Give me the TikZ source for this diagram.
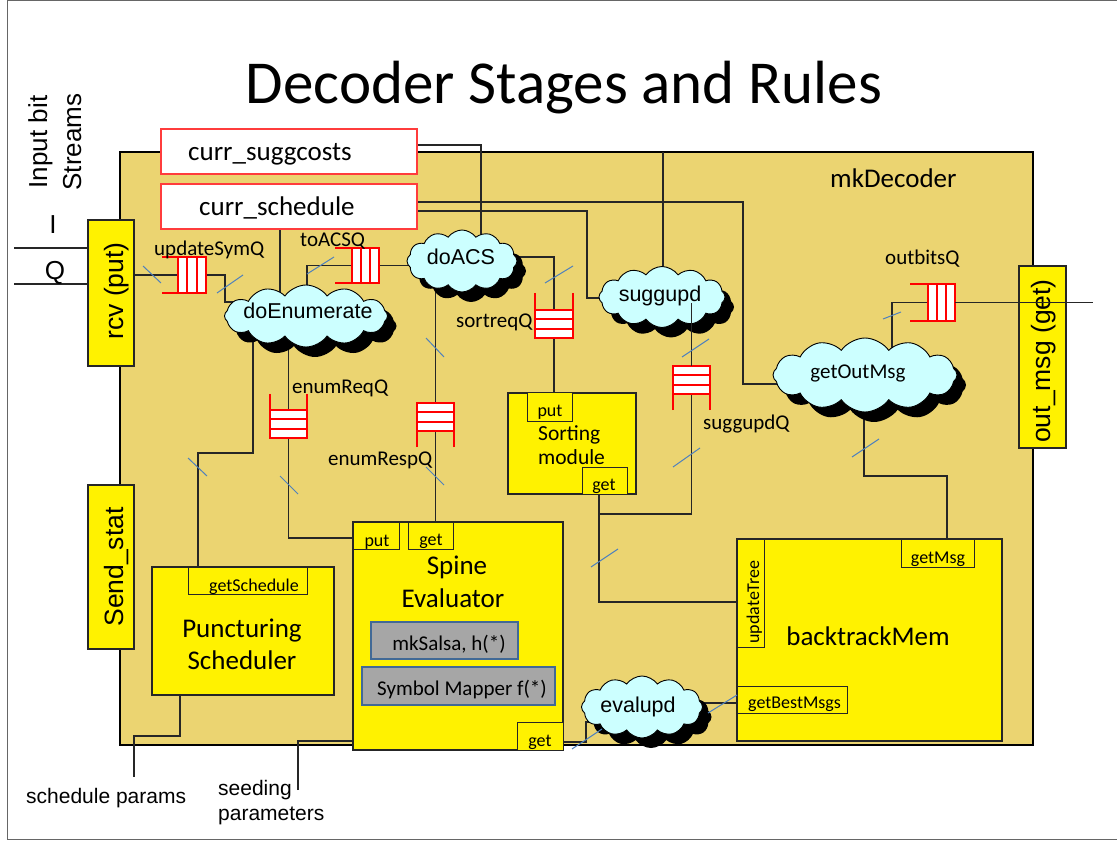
\documentclass[tikz,border=0pt]{standalone}
\usepackage{fontspec}
\setmainfont{Carlito}
\newfontfamily\arialf{Liberation Sans}
\usetikzlibrary{shapes.symbols,shadows,fit,calc}
\pgfdeclarelayer{back}
\pgfdeclarelayer{wires}
\pgfsetlayers{back,wires,main}

\definecolor{deccol}{RGB}{235,212,113}
\definecolor{cloudcol}{RGB}{204,255,255}
\definecolor{tickcol}{RGB}{79,129,189}
\definecolor{grayfill}{RGB}{166,166,166}
\definecolor{grayedge}{RGB}{65,105,150}
\definecolor{regred}{RGB}{255,60,60}

\newcommand{\setfs}[1]{\fontsize{#1}{#1}\selectfont}

\tikzset{
  wire/.style={draw=black!85, line width=1.1pt},
  tickmark/.style={draw=tickcol, line width=1pt},
  ybox/.style={draw=black!85, line width=1.3pt, fill=yellow, inner sep=0pt, outer sep=0pt},
  port/.style={draw=black!85, line width=1pt, fill=yellow, inner sep=0pt, outer sep=0pt},
  regbox/.style={draw=regred, line width=1.3pt, fill=white, inner sep=0pt},
  funcbox/.style={draw=grayedge, line width=2.5pt, fill=grayfill, inner sep=0pt},
  fifocells/.style={draw=red, line width=2.2pt, fill=white, inner sep=0pt, outer sep=0pt},
  fifoline/.style={draw=red, line width=2.2pt},
  rulecloud/.style={cloud, cloud puffs=12, cloud puff arc=110, cloud ignores aspect,
    draw=black, line width=0.9pt, fill=cloudcol, inner sep=0pt,
    drop shadow={shadow xshift=9pt, shadow yshift=-10pt, fill=black, opacity=1}},
  txt/.style={inner sep=0pt, anchor=base},
  txtw/.style={inner sep=0pt, anchor=base west},
  big/.style={font=\setfs{27}},
  mid/.style={font=\setfs{21}},
  small/.style={font=\setfs{18}},
  sans/.style={font=\arialf\setfs{21.5}},
  sansbig/.style={font=\arialf\setfs{26.5}},
}

% horizontal FIFO, open end on the left
% #1 name, #2 x of open end, #3 x where the slots begin, #4 x of closed end, #5 top y, #6 bottom y
\newcommand{\hfifo}[6]{%
  \node[fifocells, fit={(#3,#5) (#4,#6)}] (#1) {};
  \draw[fifoline] ($(#1.north west)!1/3!(#1.north east)$) -- ($(#1.south west)!1/3!(#1.south east)$)
                  ($(#1.north west)!2/3!(#1.north east)$) -- ($(#1.south west)!2/3!(#1.south east)$);
  \draw[fifoline] (#2,#5) -- (#3,#5) (#2,#6) -- (#3,#6);
}
% vertical FIFO
% #1 name, #2 left x, #3 right x, #4 y where the open legs end, #5 slot edge next to the legs, #6 far slot edge
\newcommand{\vfifo}[6]{%
  \node[fifocells, fit={(#2,#5) (#3,#6)}] (#1) {};
  \draw[fifoline] ($(#1.north west)!1/3!(#1.south west)$) -- ($(#1.north east)!1/3!(#1.south east)$)
                  ($(#1.north west)!2/3!(#1.south west)$) -- ($(#1.north east)!2/3!(#1.south east)$);
  \draw[fifoline] (#2,#4) -- (#2,#5) (#3,#4) -- (#3,#5);
}

\begin{document}
\begin{tikzpicture}[x=1pt, y=-1pt]
\useasboundingbox (0,0) rectangle (1117,842);

\begin{pgfonlayer}{back}
  \draw[black!60, line width=1pt] (7,1) rectangle (1140,839);
  \node[fill=deccol, draw=black, line width=1.8pt, inner sep=0pt, outer sep=0pt,
        fit={(120,152) (1033,745)}] (dec) {};
\end{pgfonlayer}

% title and outside labels
\node[txt, font=\setfs{61}] (title) at (564,104) {Decoder Stages and Rules};
\node[txt, rotate=90, font=\arialf\setfs{26}] (inbits1) at (47,142) {Input bit};
\node[txt, rotate=90, font=\arialf\setfs{26}] (inbits2) at (81,142) {Streams};
\node[txt, font=\arialf\setfs{26}] (ilab) at (53,234) {I};
\node[txt, font=\arialf\setfs{26}] (qlab) at (55,280) {Q};
\coordinate (iin) at (14,248);
\coordinate (qin) at (14,284);

% registers
\node[regbox, fit={(161,129) (417,174)}] (currsugg) {};
\node[txtw, big] at (188,161) {curr\_suggcosts};
\node[regbox, fit={(161,184) (417,229)}] (currsched) {};
\node[txtw, big] at (199,216) {curr\_schedule};
\node[txtw, big] (mkdec) at (830,188) {mkDecoder};

% interface methods
\node[ybox, fit={(88,220) (134,366)}] (rcv) {};
\node[txt, rotate=90, sansbig] at (123,291) {rcv (put)};
\node[ybox, fit={(88,485) (134,649)}] (sendstat) {};
\node[txt, rotate=90, sansbig] at (123,567) {Send\_stat};
\node[ybox, fit={(1019,266) (1066,448)}] (outmsg) {};
\node[txt, rotate=90, sansbig] at (1050,361) {out\_msg (get)};

% sorting module
\node[ybox, fit={(508,393) (636,494)}] (sorting) {};
\node[port, fit={(527,393) (572,421)}] (sortput) {};
\node[txt, small] at (550,417) {put};
\node[port, fit={(582,467) (627,494)}] (sortget) {};
\node[txt, small] at (604,490) {get};
\node[txtw, font=\setfs{21.5}] at (538,440) {Sorting};
\node[txtw, font=\setfs{21.5}] at (538,464) {module};

% spine evaluator
\node[ybox, fit={(353,522) (563,750)}] (spine) {};
\node[port, fit={(353,522) (399,549)}] (spput) {};
\node[txt, small] at (377,546) {put};
\node[port, fit={(408,522) (453,549)}] (spget) {};
\node[txt, small] at (431,545) {get};
\node[port, fit={(517,722) (563,750)}] (spgetb) {};
\node[txt, small] at (540,746) {get};
\node[txt, big] at (457,574) {Spine};
\node[txt, big] at (453,607) {Evaluator};
\node[funcbox, fit={(371,622) (518,659)}] (salsa) {};
\node[txt, mid] at (449,650) {mkSalsa, h(*)};
\node[funcbox, fit={(362,667) (555,705)}] (symmap) {};
\node[txt, mid] at (462,695) {Symbol Mapper f(*)};

% puncturing scheduler
\node[ybox, fit={(152,567) (334,695)}] (punc) {};
\node[port, fit={(188,567) (307,594)}] (getsch) {};
\node[txt, small] at (254,591) {getSchedule};
\node[txt, big] at (242,637) {Puncturing};
\node[txt, big] at (242,669) {Scheduler};

% backtrack memory
\node[ybox, fit={(737,539) (1002,741)}] (btmem) {};
\node[port, fit={(901,539) (974,567)}] (getmsg) {};
\node[txt, small] at (938,563) {getMsg};
\node[port, fit={(737,539) (764,647)}] (updtree) {};
\node[txt, small, rotate=90] at (759,602) {updateTree};
\node[port, fit={(737,686) (847,713)}] (getbest) {};
\node[txtw, small] at (748,708) {getBestMsgs};
\node[txt, big] at (868,645) {backtrackMem};

% rules
\node[rulecloud, minimum width=163pt, minimum height=62pt] (doenum) at (306,316) {};
\node[rulecloud, minimum width=110pt, minimum height=62pt] (doacs) at (462,261) {};
\node[rulecloud, minimum width=126pt, minimum height=61pt] (suggupd) at (662,297) {};
\node[rulecloud, minimum width=184pt, minimum height=74pt] (getout) at (865,375) {};
\node[rulecloud, minimum width=121pt, minimum height=62pt] (evalupd) at (642,707) {};
\node[txt, sans] at (308,319) {doEnumerate};
\node[txt, sans] at (461,265) {doACS};
\node[txt, sans] at (660,302) {suggupd};
\node[txt, mid] at (858,378) {getOutMsg};
\node[txt, sans] at (638,712) {evalupd};

% FIFOs
\hfifo{updq}{162}{178}{206}{257}{293}
\hfifo{acsq}{335}{352}{379}{248}{283}
\hfifo{outq}{910}{928}{955}{284}{321}
\vfifo{enreq}{270}{307}{394}{410}{438}
\vfifo{enresp}{417}{454}{447}{431}{403}
\vfifo{sortq}{535}{573}{293}{310}{338}
\vfifo{suggq}{673}{710}{410}{394}{366}
\node[txtw, mid] at (154,256) {updateSymQ};
\node[txtw, mid] at (300,247) {toACSQ};
\node[txtw, mid] at (292,393) {enumReqQ};
\node[txtw, mid] at (328,465) {enumRespQ};
\node[txtw, mid] at (456,328) {sortreqQ};
\node[txtw, mid] at (703,429) {suggupdQ};
\node[txtw, mid] at (885,265) {outbitsQ};

% parameter labels
\coordinate (schedend) at (134,777);
\coordinate (seedend) at (298,790);
\node[txtw, font=\arialf\setfs{21}] at (26,803) {schedule params};
\node[txtw, font=\arialf\setfs{21}] at (218,795) {seeding};
\node[txtw, font=\arialf\setfs{21}] at (218,820) {parameters};

% connections
\begin{pgfonlayer}{wires}
  \draw[wire] (iin) -- (rcv.west |- iin);
  \draw[wire] (qin) -- (rcv.west |- qin);
  \draw[wire] (rcv.east |- updq) -- (updq);
  \draw[wire] (updq.east) -- (225,275) -- (225,302) -- (250,302);
  \draw[wire] (currsched.south -| 280,0) -- (doenum.center -| 280,0);
  \draw[wire] (doenum.center -| 307,0) |- (doacs.center |- acsq.center);
  \draw[wire] (currsugg.east |- 0,145) -| (doacs.center -| 481,0);
  \draw[wire] (dec.north -| 663,0) -- (suggupd.center -| 663,0);
  \draw[wire] (currsched.east |- 0,202) -| (743,384) -- (getout.center |- 0,384);
  \draw[wire] (currsched.east |- 0,211) -| (587,298) -- (suggupd.center |- 0,298);
  \draw[wire] (doacs.center |- 0,257) -| (sortq.center);
  \draw[wire] (sortq.south) -- (sortq.south |- sortput.north);
  \draw[wire] (doacs.center -| enresp.center) -- (enresp.center);
  \draw[wire] (enresp.south) -- (enresp.south |- spget.north);
  \draw[wire] (doenum.center -| enreq.center) -- (enreq.center);
  \draw[wire] (enreq.south) |- (spine.west |- 0,538);
  \draw[wire] (doenum.center -| 253,0) |- (198,453) -- (getsch.north -| 198,0);
  \draw[wire] (suggq.south) |- (599,514);
  \draw[wire] (sortget.south -| 599,0) |- (updtree.west |- 0,602);
  \draw[wire] (getout.center -| 892,0) |- (outq.center);
  \draw[wire] (getout.center -| 864,0) |- (947,476) -- (getmsg.north -| 947,0);
  \draw[wire] (punc.south -| 180,0) |- (134,736) -- (schedend);
  \draw[wire] (seedend) |- (spine.west |- 0,741);
  \draw[wire] (spgetb.east |- 0,742) -- (586,742) -- (586,722) -- (evalupd.center |- 0,722);
  \draw[wire] (evalupd.center |- 0,703) -- (getbest.west |- 0,703);
\end{pgfonlayer}
\coordinate (outend) at (1093,302.5);
\draw[wire] (outq.east) -- (outend);
\draw[wire] (suggupd.center -| suggq.center) ++(0,6) -- (suggq.north);

% width marks on the buses
\draw[tickmark] (143,266) -- (161,283);
\draw[tickmark] (217,293) -- (243,275);
\draw[tickmark] (307,274) -- (334,257);
\draw[tickmark] (426,338) -- (444,357);
\draw[tickmark] (545,283) -- (573,266);
\draw[tickmark] (682,357) -- (709,339);
\draw[tickmark] (883,319) -- (901,312);
\draw[tickmark] (852,457) -- (879,439);
\draw[tickmark] (673,467) -- (700,448);
\draw[tickmark] (591,567) -- (618,549);
\draw[tickmark] (426,467) -- (444,485);
\draw[tickmark] (280,476) -- (298,494);
\draw[tickmark] (188,458) -- (207,476);
\draw[tickmark] (572,749) -- (602,729);
\draw[tickmark] (708,713) -- (737,695);
\end{tikzpicture}
\end{document}
